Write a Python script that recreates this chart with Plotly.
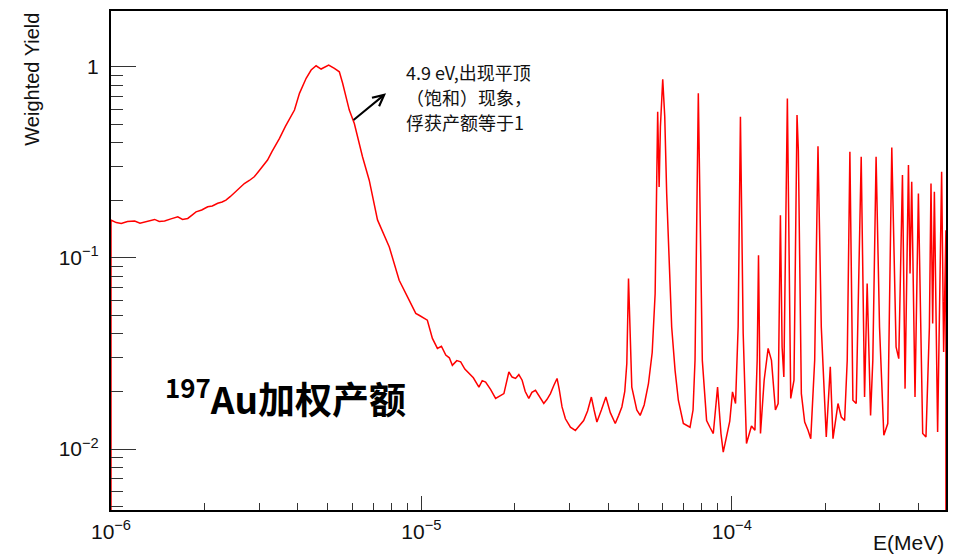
import numpy as np
import plotly.graph_objects as go

# Neutron energy (eV) and weighted capture yield for 197Au
energy_eV = [
    1.00, 1.04, 1.079, 1.13, 1.192, 1.24, 1.283, 1.33, 1.382, 1.43,
    1.488, 1.56, 1.641, 1.70, 1.767, 1.82, 1.879, 1.96, 2.049, 2.12,
    2.207, 2.28, 2.346, 2.42, 2.497, 2.59, 2.689, 2.79, 2.894, 2.97,
    3.040, 3.12, 3.194, 3.30, 3.40, 3.49, 3.65, 3.90, 4.047, 4.253,
    4.413, 4.579, 4.752, 5.027, 5.244, 5.440, 5.575, 5.716, 5.857, 6.08,
    6.46, 6.79, 7.22, 7.88, 8.48, 9.13, 9.59, 9.83, 10.45, 10.85,
    11.26, 11.6, 11.98, 12.3, 12.58, 13.0, 13.38, 13.8, 14.23, 14.7,
    15.32, 15.7, 16.10, 16.7, 17.34, 17.9, 18.44, 19.13, 19.6, 20.10,
    20.6, 21.11, 21.6, 22.18, 22.7, 23.31, 24.0, 24.79, 25.4, 26.04,
    26.7, 27.35, 27.8, 28.38, 29.10, 30.2, 31.33, 32.3, 33.32, 34.3,
    35.28, 36.0, 36.76, 38.0, 39.29, 40.6, 42.12, 43.2, 44.23, 45.2,
    45.89, 46.47, 47.62, 49.41, 50.67, 52.2, 53.88, 55.4, 56.62, 57.70,
    58.32, 58.88, 59.90, 60.8, 61.68, 64.01, 65.64, 67.26, 69.80, 73.35,
    75.0, 76.11, 78.00, 80.35, 82.94, 85.0, 87.16, 89.97, 92.26, 93.84,
    96.16, 98.5, 100.5, 102.8, 104.8, 106.6, 108.8, 111.5, 115.7, 118.7,
    120.7, 121.9, 123.7, 127.1, 130.9, 134.2, 138.2, 141.0, 143.4, 145.2,
    147.1, 148.8, 151.0, 154.8, 158.6, 162.2, 163.8, 167.5, 171.7, 176.0,
    179.6, 184.9, 189.5, 194.2, 201.5, 207.6, 211.8, 219.8, 225.2, 230.9,
    235.4, 240.1, 245.5, 251.6, 261.1, 267.7, 272.9, 279.9, 284.6, 291.6,
    299.1, 308.8, 318.0, 327.6, 338.2, 345.0, 354.6, 361.5, 370.7, 375.1,
    379.8, 389.2, 399.1, 412.0, 422.2, 433.0, 438.2, 443.7, 449.3, 460.3,
    474.2, 481.3, 489.5,
]
weighted_yield = [
    0.1575, 0.153, 0.1514, 0.155, 0.156, 0.152, 0.1538, 0.157, 0.1589, 0.155,
    0.156, 0.160, 0.164, 0.159, 0.1608, 0.167, 0.174, 0.178, 0.185, 0.187,
    0.193, 0.196, 0.2005, 0.209, 0.219, 0.230, 0.245, 0.254, 0.2655, 0.280,
    0.294, 0.308, 0.3248, 0.360, 0.390, 0.422, 0.489, 0.5934, 0.726, 0.870,
    0.961, 1.012, 0.973, 1.021, 0.981, 0.941, 0.819, 0.697, 0.5934, 0.505,
    0.338, 0.255, 0.158, 0.114, 0.0764, 0.0601, 0.0512, 0.0501, 0.0472, 0.0379,
    0.0336, 0.0345, 0.0310, 0.0300, 0.0274, 0.0290, 0.0286, 0.0262, 0.0248, 0.0236,
    0.0211, 0.0228, 0.0224, 0.0205, 0.0184, 0.0190, 0.0195, 0.0253, 0.0238, 0.0234,
    0.0245, 0.0229, 0.0200, 0.0184, 0.0198, 0.0203, 0.0188, 0.0173, 0.0182, 0.0195,
    0.0215, 0.0234, 0.0205, 0.0166, 0.0144, 0.0130, 0.0125, 0.0133, 0.0141, 0.0158,
    0.0187, 0.0160, 0.01385, 0.0160, 0.0187, 0.0155, 0.0136, 0.0150, 0.0166, 0.0200,
    0.0280, 0.0780, 0.0211, 0.0160, 0.0150, 0.0170, 0.0220, 0.0320, 0.0651, 0.581,
    0.235, 0.485, 0.859, 0.550, 0.217, 0.0435, 0.0258, 0.0180, 0.0136, 0.0130,
    0.0160, 0.0291, 0.726, 0.0291, 0.0141, 0.0130, 0.01205, 0.0211, 0.01205, 0.00964,
    0.01156, 0.0140, 0.0199, 0.0173, 0.0435, 0.547, 0.0402, 0.01068, 0.0132, 0.01253,
    0.0291, 0.1033, 0.01205, 0.0229, 0.0336, 0.0291, 0.0160, 0.0173, 0.1673, 0.0342,
    0.0238, 0.0973, 0.683, 0.0184, 0.0229, 0.559, 0.366, 0.0195, 0.01385, 0.01253,
    0.01133, 0.0291, 0.384, 0.0435, 0.01156, 0.0269, 0.01133, 0.0173, 0.0147, 0.0141,
    0.0291, 0.359, 0.0180, 0.0173, 0.338, 0.0187, 0.0734, 0.0150, 0.0291, 0.338,
    0.0435, 0.0118, 0.0136, 0.378, 0.0342, 0.0297, 0.271, 0.0207, 0.306, 0.0828,
    0.250, 0.0187, 0.217, 0.01205, 0.01156, 0.0435, 0.245, 0.0454, 0.222, 0.01228,
    0.282, 0.0322, 0.1396,
]

# Histogram outline closes down to the floor at both ends
floor_level = 1e-3

x_major = [1e-6, 1e-5, 1e-4]
x_major_text = ["10<sup>\u22126</sup>", "10<sup>\u22125</sup>", "10<sup>\u22124</sup>"]
y_major = [1e-2, 1e-1, 1.0]
y_major_text = ["10<sup>\u22122</sup>", "10<sup>\u22121</sup>", "1"]

x_minor = [m * 10.0 ** d for d in (-6, -5, -4) for m in range(2, 10)]
y_minor = [m * 10.0 ** d for d in (-3, -2, -1, 0) for m in range(2, 10)]

# Note on the saturated 4.9 eV resonance, one entry per line
note_lines = ["4.9 eV,出现平顶", "（饱和）现象，", "俘获产额等于1"]

energy_MeV = np.array(energy_eV) * 1e-6
x_line = np.concatenate([[energy_MeV[0]], energy_MeV, [energy_MeV[-1]]])
y_line = np.concatenate([[floor_level], weighted_yield, [floor_level]])

fig = go.Figure()
fig.add_trace(go.Scatter(
    x=x_line, y=y_line, mode="lines",
    line=dict(color="#ff0000", width=1.5),
    showlegend=False, hoverinfo="skip",
))

tick_font = dict(family="Liberation Sans, Arial, sans-serif", size=21, color="#111111")

fig.update_layout(
    width=953, height=556,
    margin=dict(l=111, r=5, t=11, b=46, pad=0),
    paper_bgcolor="white", plot_bgcolor="white",
    xaxis=dict(
        type="log", range=[-6, -3.31],
        showline=True, linecolor="black", linewidth=2, mirror=True,
        showgrid=False, zeroline=False,
        ticks="inside", ticklen=14, tickwidth=1, tickcolor="#333333",
        tickmode="array", tickvals=x_major, ticktext=x_major_text,
        tickfont=tick_font, ticklabelstandoff=2,
        minor=dict(ticks="inside", ticklen=7, tickwidth=1, tickcolor="#333333",
                   tickmode="array", tickvals=x_minor, showgrid=False),
    ),
    yaxis=dict(
        type="log", range=[-2.319, 0.2916],
        showline=True, linecolor="black", linewidth=2, mirror=True,
        showgrid=False, zeroline=False,
        ticks="inside", ticklen=25, tickwidth=1, tickcolor="#333333",
        tickmode="array", tickvals=y_major, ticktext=y_major_text,
        tickfont=tick_font, ticklabelstandoff=6,
        minor=dict(ticks="inside", ticklen=12, tickwidth=1, tickcolor="#333333",
                   tickmode="array", tickvals=y_minor, showgrid=False),
    ),
)

label_font = dict(family="Liberation Sans, Arial, sans-serif", size=20, color="#111111")
cjk = "Noto Sans CJK SC, sans-serif"

fig.add_annotation(
    text="Weighted Yield", textangle=-90, font=label_font,
    xref="paper", yref="paper", x=-0.0956, y=1.0,
    xanchor="center", yanchor="top", showarrow=False,
)
fig.add_annotation(
    text="E(MeV)", font=dict(family="Liberation Sans, Arial, sans-serif", size=21, color="#111111"),
    xref="paper", yref="paper", x=1.0, y=-0.0661,
    xanchor="right", yanchor="middle", showarrow=False,
)
for line_text, y_pos in zip(note_lines, [0.8778, 0.8267, 0.7776]):
    fig.add_annotation(
        text=line_text, font=dict(family=cjk, size=18, color="#111111"), align="left",
        xref="paper", yref="paper", x=0.3513, y=y_pos,
        xanchor="left", yanchor="middle", showarrow=False,
    )
fig.add_annotation(
    text="", xref="paper", yref="paper", x=0.3294, y=0.835,
    ax=-34, ay=28, showarrow=True, arrowhead=5, arrowsize=1.1,
    arrowwidth=2, arrowcolor="black",
)
fig.add_annotation(
    text="<b><sup>197</sup>Au加权产额</b>",
    font=dict(family=cjk, size=37, color="black"),
    xref="paper", yref="paper", x=0.0621, y=0.2265,
    xanchor="left", yanchor="middle", showarrow=False,
)

fig.write_html("out.html")
